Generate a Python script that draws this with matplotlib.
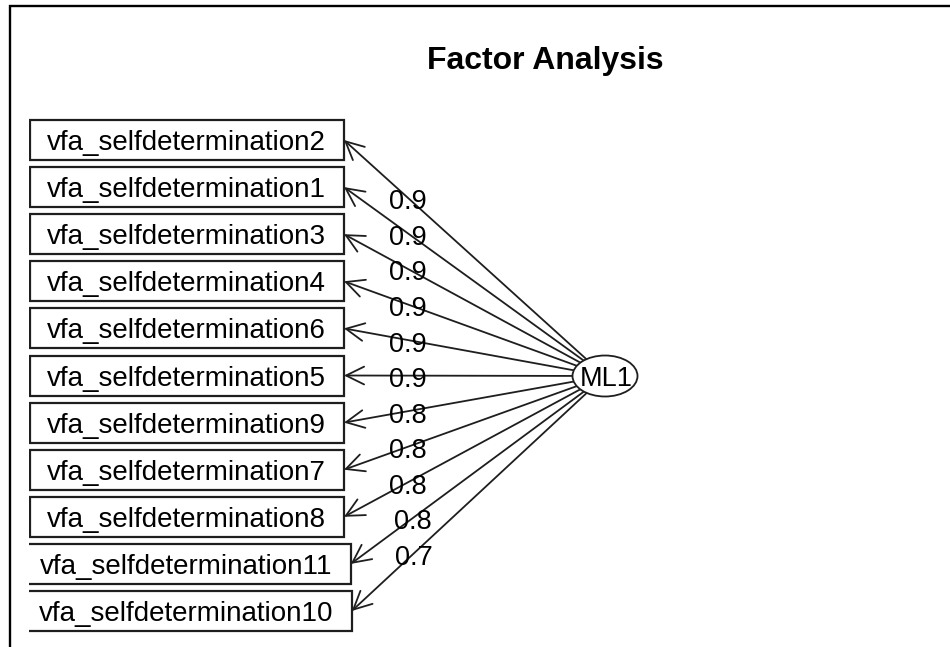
import matplotlib
matplotlib.use("Agg")
import matplotlib.pyplot as plt
from matplotlib.patches import Rectangle, Ellipse
import numpy as np

plt.rcParams['font.family'] = ['Liberation Sans', 'DejaVu Sans']

title = "Factor Analysis"
factor = "ML1"
variables = ["vfa_selfdetermination2", "vfa_selfdetermination1", "vfa_selfdetermination3",
             "vfa_selfdetermination4", "vfa_selfdetermination6", "vfa_selfdetermination5",
             "vfa_selfdetermination9", "vfa_selfdetermination7", "vfa_selfdetermination8",
             "vfa_selfdetermination11", "vfa_selfdetermination10"]
loadings = [0.9, 0.9, 0.9, 0.9, 0.9, 0.9, 0.8, 0.8, 0.8, 0.8, 0.7]

W, H = 950, 647
fig = plt.figure(figsize=(9.5, 6.47), dpi=100)
ax = fig.add_axes([0, 0, 1, 1])
ax.set_xlim(0, W)
ax.set_ylim(H, 0)
ax.axis('off')

# device frame, only left and top edges are in view
ax.plot([10, 10, W], [H, 6, 6], color='black', lw=1.7, solid_joinstyle='miter')

ax.text(545, 57, title, ha='center', va='center_baseline', fontsize=23, fontweight='bold')

ys = np.linspace(140, 611, len(variables))
fx, fy = 605, 376
ink = '#1e1e1e'

# boxes that spill past the plot region lose their left edge
clip = Rectangle((28.5, 0), W, H, transform=ax.transData)

renderer = fig.canvas.get_renderer()
inv = ax.transData.inverted()
for name, val, y in zip(variables, loadings, ys):
    t = ax.text(186, y, name, ha='center', va='center_baseline', fontsize=20)
    bb = t.get_window_extent(renderer)
    (x0, _), (x1, _) = inv.transform([[bb.x0, bb.y0], [bb.x1, bb.y1]])
    left, right = x0 - 17, x1 + 18.5
    box = Rectangle((left, y - 20), right - left, 40, fill=False, ec=ink, lw=1.6)
    ax.add_patch(box)
    box.set_clip_path(clip)

    ax.annotate('', xy=(right, y), xytext=(fx, fy),
                arrowprops=dict(arrowstyle='->,head_length=0.65,head_width=0.32',
                                mutation_scale=20, shrinkA=0, shrinkB=0,
                                color=ink, lw=1.3))
    lx = right + 0.245 * (fx - right)
    ly = y + 0.245 * (fy - y) + 1.5
    ax.text(lx, ly, "{:.1f}".format(val), ha='center', va='center_baseline', fontsize=19.5)

ax.add_patch(Ellipse((fx, fy), 65, 41, fc='white', ec=ink, lw=1.3, zorder=5))
ax.text(fx + 1, fy, factor, ha='center', va='center_baseline', fontsize=19.5, zorder=6)

fig.savefig('out.png', dpi=100)
